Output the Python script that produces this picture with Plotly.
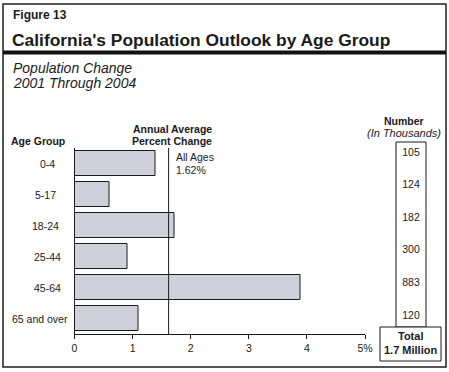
import plotly.graph_objects as go

# ---- data ----
age_groups = ["0-4", "5-17", "18-24", "25-44", "45-64", "65 and over"]
pct_change = [1.40, 0.61, 1.72, 0.92, 3.89, 1.10]
number_thousands = ["105", "124", "182", "300", "883", "120"]
all_ages_pct = 1.62
x_ticks = [0, 1, 2, 3, 4, 5]
x_tick_text = ["0", "1", "2", "3", "4", "5%"]
total_text = "1.7 Million"

# ---- layout helpers (pixel -> paper) ----
W, H = 449, 372
def px(x):
    return x / W
def py(y):
    return 1 - y / H

FONT = "Liberation Sans, Arial, Helvetica, sans-serif"
INK = "#1a1a1a"
BAR = "#d0d0da"
BASE = 10.5

fig = go.Figure()

fig.add_trace(go.Bar(
    y=age_groups, x=pct_change, orientation="h",
    width=0.78,
    marker=dict(color=BAR, line=dict(color=INK, width=1)),
    xaxis="x", yaxis="y", showlegend=False, hoverinfo="skip",
))

# numbers column
fig.add_trace(go.Scatter(
    x=[0] * len(number_thousands), y=list(range(len(number_thousands))),
    mode="text", text=number_thousands, cliponaxis=False,
    textfont=dict(family=FONT, size=BASE, color=INK),
    xaxis="x2", yaxis="y2", showlegend=False, hoverinfo="skip",
))

fig.update_layout(
    width=W, height=H, autosize=False,
    margin=dict(l=0, r=0, t=0, b=0, pad=0),
    paper_bgcolor="white", plot_bgcolor="white",
    font=dict(family=FONT, size=BASE, color=INK),
    xaxis=dict(
        domain=[px(74.5), px(365)], range=[0, 5],
        tickvals=x_ticks, ticktext=x_tick_text,
        ticks="outside", ticklen=4, tickcolor=INK, tickwidth=1,
        showline=True, linecolor=INK, linewidth=1,
        showgrid=False, zeroline=False, automargin=False,
        tickfont=dict(size=BASE, color=INK), anchor="y",
    ),
    yaxis=dict(
        domain=[py(334), py(148)],
        categoryorder="array", categoryarray=age_groups,
        range=[5.5, -0.5],
        showline=True, linecolor=INK, linewidth=1,
        showticklabels=False, ticks="", showgrid=False, zeroline=False,
        automargin=False, anchor="x",
    ),
    xaxis2=dict(domain=[px(396), px(426)], range=[-1, 1], visible=False,
                anchor="y2", fixedrange=True),
    yaxis2=dict(domain=[py(316), py(153)], range=[5, 0], visible=False,
                anchor="x2", fixedrange=True),
    bargap=0,
)

shapes = []
# outer frame
shapes.append(dict(type="rect", xref="paper", yref="paper",
                   x0=px(3), x1=px(446), y0=py(367), y1=py(4),
                   line=dict(color="#1e1e1e", width=1.5)))
# thick rule under title
shapes.append(dict(type="line", xref="paper", yref="paper",
                   x0=px(3), x1=px(446), y0=py(52.5), y1=py(52.5),
                   line=dict(color="#111111", width=4)))
# all ages reference line
shapes.append(dict(type="line", xref="x", yref="y domain",
                   x0=all_ages_pct, x1=all_ages_pct, y0=0, y1=1,
                   line=dict(color=INK, width=1)))
# number column box
shapes.append(dict(type="rect", xref="paper", yref="paper",
                   x0=px(396), x1=px(426), y0=py(327), y1=py(142),
                   line=dict(color=INK, width=1)))
# total box
shapes.append(dict(type="rect", xref="paper", yref="paper",
                   x0=px(380), x1=px(441), y0=py(361), y1=py(327),
                   fillcolor="white", line=dict(color=INK, width=1)))
fig.update_layout(shapes=shapes)

ann = []
def text(x, y, s, size=BASE, anchor="left"):
    ann.append(dict(xref="paper", yref="paper", x=px(x), y=py(y), text=s,
                    showarrow=False, xanchor=anchor, yanchor="middle",
                    font=dict(family=FONT, size=size, color=INK)))

text(11, 15, "<b>Figure 13</b>", size=12)
text(10, 40, "<b>California's Population Outlook by Age Group</b>", size=17.4)
text(11, 68, "<i>Population Change</i>", size=14)
text(11, 83, "<i>2001 Through 2004</i>", size=14)
text(9, 141, "<b>Age Group</b>")
text(172, 129, "<b>Annual Average</b>", anchor="center")
text(172, 141, "<b>Percent Change</b>", anchor="center")
text(174, 157, "All Ages")
text(174, 170, f"{all_ages_pct:.2f}%")
text(404, 121, "<b>Number</b>", anchor="center")
text(404, 133, "<i>(In Thousands)</i>", size=11, anchor="center")
text(410.5, 336, "<b>Total</b>", size=11, anchor="center")
text(410.5, 350, f"<b>{total_text}</b>", size=11, anchor="center")

label_x = [47, 45, 45, 47, 47, 40]
for g, lx in zip(age_groups, label_x):
    ann.append(dict(xref="paper", yref="y", x=px(lx), y=g, text=g,
                    showarrow=False, xanchor="center", yanchor="middle",
                    font=dict(family=FONT, size=BASE, color=INK)))

fig.update_layout(annotations=ann)

fig.write_html(
    "out.html",
    config={"displayModeBar": False},
    post_script="document.body.style.margin='0';document.body.style.overflow='hidden';",
)
